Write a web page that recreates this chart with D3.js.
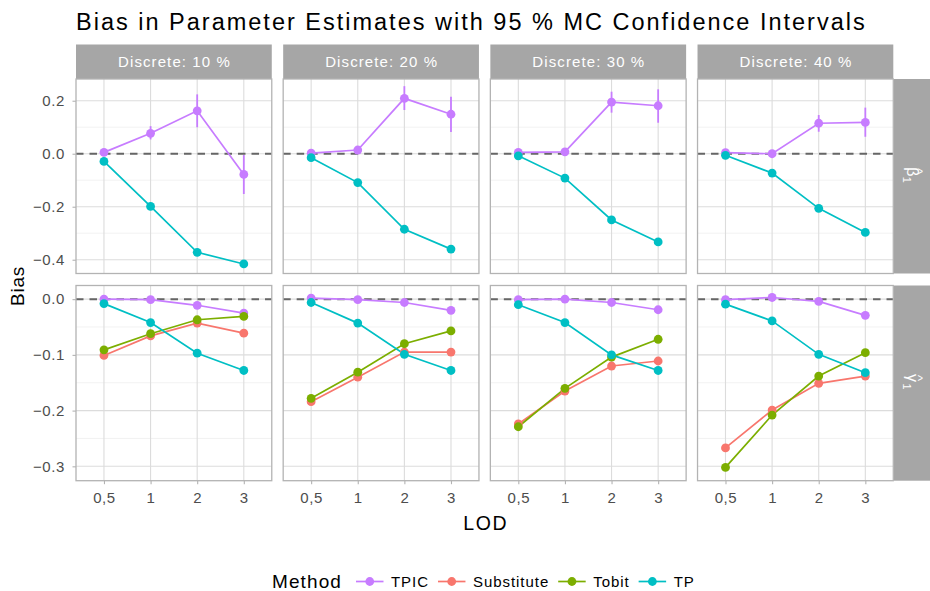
<!DOCTYPE html>
<html>
<head>
<meta charset="utf-8">
<script src="https://cdn.jsdelivr.net/npm/d3@7/dist/d3.min.js"></script>
<style>
  html, body { margin: 0; padding: 0; background: #ffffff; }
  svg { display: block; font-family: "Liberation Sans", Arial, Helvetica, sans-serif; }
</style>
</head>
<body>
<svg id="chart" width="930" height="591"></svg>
<script>
// ---- data ---------------------------------------------------------------
const lods = ["0,5", "1", "2", "3"];
const discreteLevels = ["Discrete: 10 %", "Discrete: 20 %", "Discrete: 30 %", "Discrete: 40 %"];
const methods = ["TPIC", "Substitute", "Tobit", "TP"];
const methodColors = ["#C77CFF", "#F8766D", "#7CAE00", "#00BFC4"];

// beta_1 bias, one row per discrete level, one value per LOD
const betaTPIC = [
  [0.005, 0.077, 0.162, -0.078],
  [0.002, 0.014, 0.209, 0.149],
  [0.005, 0.007, 0.195, 0.181],
  [0.004, 0.000, 0.115, 0.118]
];
const betaTPICLower = [
  [-0.001, 0.054, 0.100, -0.152],
  [-0.003, 0.006, 0.165, 0.082],
  [0.000, 0.000, 0.155, 0.117],
  [-0.001, -0.005, 0.083, 0.064]
];
const betaTPICUpper = [
  [0.011, 0.104, 0.224, -0.005],
  [0.007, 0.022, 0.255, 0.215],
  [0.010, 0.014, 0.234, 0.243],
  [0.009, 0.005, 0.146, 0.174]
];
const betaTP = [
  [-0.029, -0.199, -0.372, -0.416],
  [-0.015, -0.109, -0.285, -0.360],
  [-0.008, -0.092, -0.250, -0.333],
  [-0.006, -0.073, -0.206, -0.297]
];
const betaTPHalfCI = [0.002, 0.003, 0.004, 0.004];

// gamma_1 bias
const gammaTPIC = [
  [0.000, -0.001, -0.011, -0.025],
  [0.002, -0.001, -0.006, -0.020],
  [-0.001, 0.000, -0.006, -0.019],
  [-0.001, 0.003, -0.004, -0.029]
];
const gammaSubstitute = [
  [-0.101, -0.066, -0.043, -0.061],
  [-0.184, -0.140, -0.095, -0.095],
  [-0.224, -0.165, -0.120, -0.111],
  [-0.267, -0.199, -0.151, -0.138]
];
const gammaTobit = [
  [-0.091, -0.062, -0.037, -0.031],
  [-0.178, -0.131, -0.080, -0.057],
  [-0.229, -0.160, -0.104, -0.072],
  [-0.302, -0.208, -0.138, -0.096]
];
const gammaTP = [
  [-0.008, -0.042, -0.097, -0.128],
  [-0.006, -0.043, -0.099, -0.128],
  [-0.010, -0.042, -0.100, -0.128],
  [-0.009, -0.039, -0.099, -0.132]
];
const gammaHalfCI = [0.003, 0.004, 0.005, 0.006];

const betaTicks = [0.2, 0.0, -0.2, -0.4];
const betaMinor = [0.1, -0.1, -0.3];
const gammaTicks = [0.0, -0.1, -0.2, -0.3];
const gammaMinor = [-0.05, -0.15, -0.25];

// ---- layout -------------------------------------------------------------
const svg = d3.select("#chart");
const panelLeft = 76, panelRight = 893.3, panelGap = 11.4;
const panelW = (panelRight - panelLeft - 3 * panelGap) / 4;
const stripTop = 44.5, stripH = 34.5;
const rows = [
  { key: "beta", top: 79, h: 194.5, domain: [-0.452, 0.282], ticks: betaTicks, minor: betaMinor },
  { key: "gamma", top: 285.5, h: 195.2, domain: [-0.3258, 0.0245], ticks: gammaTicks, minor: gammaMinor }
];
const gridCol = "#dcdcdc", borderCol = "#b3b3b3", stripCol = "#a6a6a6", axisText = "#4d4d4d";

const x = d3.scalePoint().domain(lods).range([0, panelW]).padding(0.6);

// assemble series per row
function seriesFor(rowKey, level) {
  if (rowKey === "beta") {
    return [
      { m: 0, vals: betaTPIC[level], lo: betaTPICLower[level], hi: betaTPICUpper[level] },
      { m: 3, vals: betaTP[level],
        lo: betaTP[level].map((v, i) => v - betaTPHalfCI[i]),
        hi: betaTP[level].map((v, i) => v + betaTPHalfCI[i]) }
    ];
  }
  const mk = (m, arr) => ({ m, vals: arr[level],
    lo: arr[level].map((v, i) => v - gammaHalfCI[i]),
    hi: arr[level].map((v, i) => v + gammaHalfCI[i]) });
  return [mk(0, gammaTPIC), mk(1, gammaSubstitute), mk(2, gammaTobit), mk(3, gammaTP)];
}

// title
svg.append("text").attr("x", 76).attr("y", 29.5)
  .attr("font-size", 23.5).attr("letter-spacing", 2.0).attr("fill", "#000")
  .text("Bias in Parameter Estimates with 95 % MC Confidence Intervals");

// top strips
discreteLevels.forEach((lab, c) => {
  const px = panelLeft + c * (panelW + panelGap);
  svg.append("rect").attr("x", px).attr("y", stripTop).attr("width", panelW).attr("height", stripH).attr("fill", stripCol);
  svg.append("text").attr("x", px + panelW / 2 + 0.6).attr("y", stripTop + stripH / 2 + 5.3)
    .attr("text-anchor", "middle").attr("font-size", 15).attr("letter-spacing", 1.1)
    .attr("fill", "#fff").text(lab);
});

rows.forEach((row, r) => {
  const y = d3.scaleLinear().domain(row.domain).range([row.top + row.h, row.top]);

  // right strip with a rotated, hatted parameter symbol
  const sx = panelRight + 0.7;
  svg.append("rect").attr("x", sx).attr("y", row.top).attr("width", 930 - sx).attr("height", row.h).attr("fill", stripCol);
  const lab = svg.append("g").attr("transform", `translate(${sx + 13},${row.top + row.h / 2 - 9}) rotate(90)`);
  const glyph = r === 0 ? "β" : "γ";
  lab.append("text").attr("x", 0).attr("y", 0).attr("font-size", 16).attr("fill", "#fff").text(glyph);
  lab.append("text").attr("x", 9.5).attr("y", 4).attr("font-size", 11).attr("fill", "#fff").text("1");
  lab.append("text").attr("x", 1).attr("y", -7).attr("font-size", 13).attr("fill", "#fff").text("^");

  // y axis labels + ticks (left)
  const yAxis = svg.append("g").attr("transform", `translate(${panelLeft},0)`)
    .call(d3.axisLeft(y).tickValues(row.ticks).tickSize(3.5).tickPadding(7.5).tickFormat(d3.format(".1f")));
  yAxis.select(".domain").remove();
  yAxis.selectAll(".tick line").attr("stroke", borderCol).attr("stroke-width", 1.1);
  yAxis.selectAll(".tick text").attr("fill", axisText).attr("font-size", 15)
    .attr("letter-spacing", 0.6).attr("font-family", null);

  discreteLevels.forEach((_, c) => {
    const px = panelLeft + c * (panelW + panelGap);
    const g = svg.append("g").attr("transform", `translate(${px},0)`);

    // minor grid
    g.selectAll("line.minor").data(row.minor).join("line")
      .attr("x1", 0).attr("x2", panelW).attr("y1", d => y(d)).attr("y2", d => y(d))
      .attr("stroke", "#ececec").attr("stroke-width", 0.7);
    // major grid
    g.selectAll("line.major").data(row.ticks).join("line")
      .attr("x1", 0).attr("x2", panelW).attr("y1", d => y(d)).attr("y2", d => y(d))
      .attr("stroke", gridCol).attr("stroke-width", 1.1);
    g.selectAll("line.vgrid").data(lods).join("line")
      .attr("x1", d => x(d)).attr("x2", d => x(d)).attr("y1", row.top).attr("y2", row.top + row.h)
      .attr("stroke", gridCol).attr("stroke-width", 1.1);

    // zero reference
    g.append("line").attr("x1", 0).attr("x2", panelW).attr("y1", y(0)).attr("y2", y(0))
      .attr("stroke", "#666").attr("stroke-width", 2).attr("stroke-dasharray", "7.5,6");

    const series = seriesFor(row.key, c);
    const line = d3.line().x((d, i) => x(lods[i])).y(d => y(d));
    series.forEach(s => {
      g.append("path").attr("d", line(s.vals)).attr("fill", "none")
        .attr("stroke", methodColors[s.m]).attr("stroke-width", 1.7);
    });
    series.forEach(s => {
      g.selectAll(null).data(lods).join("line")
        .attr("x1", d => x(d)).attr("x2", d => x(d))
        .attr("y1", (d, i) => y(s.lo[i])).attr("y2", (d, i) => y(s.hi[i]))
        .attr("stroke", methodColors[s.m]).attr("stroke-width", 1.8);
    });
    series.forEach(s => {
      g.selectAll(null).data(lods).join("circle")
        .attr("cx", d => x(d)).attr("cy", (d, i) => y(s.vals[i])).attr("r", 4.4)
        .attr("fill", methodColors[s.m]);
    });

    // panel border
    g.append("rect").attr("x", 0).attr("y", row.top).attr("width", panelW).attr("height", row.h)
      .attr("fill", "none").attr("stroke", borderCol).attr("stroke-width", 1.3);

    // x axis on the bottom row
    if (r === rows.length - 1) {
      const xa = g.append("g").attr("transform", `translate(0,${row.top + row.h})`)
        .call(d3.axisBottom(x).tickSize(3.5).tickPadding(8.5));
      xa.select(".domain").remove();
      xa.selectAll(".tick line").attr("stroke", borderCol).attr("stroke-width", 1.1);
      xa.selectAll(".tick text").attr("fill", axisText).attr("font-size", 15)
        .attr("letter-spacing", 0.6).attr("font-family", null);
    }
  });
});

// axis titles
svg.append("text").attr("transform", "translate(23.5,286) rotate(-90)")
  .attr("text-anchor", "middle").attr("font-size", 19).attr("letter-spacing", 0.8)
  .attr("fill", "#000").text("Bias");
svg.append("text").attr("x", (panelLeft + panelRight) / 2 + 1).attr("y", 530)
  .attr("text-anchor", "middle").attr("font-size", 19.5).attr("letter-spacing", 1.6)
  .attr("fill", "#000").text("LOD");

// legend
const legY = 581.5;
const leg = svg.append("g");
leg.append("text").attr("x", 272).attr("y", legY + 6.8).attr("font-size", 19)
  .attr("letter-spacing", 1.1).attr("fill", "#000").text("Method");
let cx = 356;
methods.forEach((m, i) => {
  leg.append("line").attr("x1", cx).attr("x2", cx + 27.5).attr("y1", legY).attr("y2", legY)
    .attr("stroke", methodColors[i]).attr("stroke-width", 1.7);
  leg.append("circle").attr("cx", cx + 13.75).attr("cy", legY).attr("r", 4.4).attr("fill", methodColors[i]);
  const t = leg.append("text").attr("x", cx + 35).attr("y", legY + 5.4).attr("font-size", 15)
    .attr("letter-spacing", 0.95).attr("fill", "#000").text(m);
  cx += 35 + t.node().getComputedTextLength() + 9;
});
</script>
</body>
</html>
